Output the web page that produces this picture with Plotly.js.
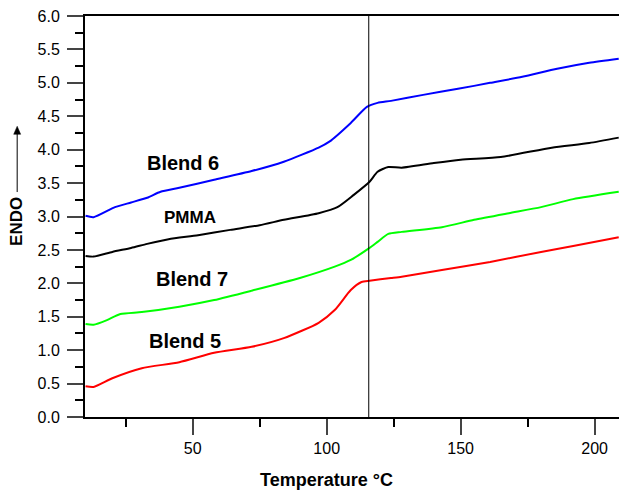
<!DOCTYPE html>
<html>
<head>
<meta charset="utf-8">
<script src="https://cdn.plot.ly/plotly-3.0.1.min.js"></script>
<style>html,body{margin:0;padding:0;background:#fff;}#chart{width:619px;height:492px;}</style>
</head>
<body>
<div id="chart"></div>
<script>
// Temperature (°C) and ENDO values
const blend6T = [10, 13, 21, 27, 33, 38, 45, 58, 72, 84, 97, 101, 109, 115, 119, 124, 136, 149, 161, 173, 186, 198, 209];
const blend6 = [3.01, 2.99, 3.14, 3.21, 3.28, 3.37, 3.43, 3.55, 3.68, 3.82, 4.03, 4.12, 4.40, 4.64, 4.70, 4.73, 4.82, 4.91, 5.00, 5.09, 5.21, 5.30, 5.36];

const pmmaT = [10, 13, 20, 27, 33, 41, 52, 64, 75, 84, 97, 104, 110, 116, 119, 123, 128, 140, 150, 165, 184, 198, 209];
const pmma = [2.41, 2.40, 2.47, 2.53, 2.59, 2.66, 2.72, 2.80, 2.87, 2.95, 3.05, 3.14, 3.32, 3.52, 3.67, 3.74, 3.73, 3.80, 3.85, 3.89, 4.03, 4.10, 4.18];

const blend7T = [10, 13, 18, 23, 31, 45, 58, 72, 90, 103, 109, 116, 119, 123, 128, 143, 155, 168, 180, 192, 209];
const blend7 = [1.39, 1.38, 1.45, 1.54, 1.57, 1.65, 1.75, 1.89, 2.08, 2.25, 2.35, 2.53, 2.62, 2.74, 2.77, 2.84, 2.95, 3.05, 3.14, 3.26, 3.37];

const blend5T = [10, 13, 20, 31, 45, 58, 72, 84, 97, 103, 109, 113, 116, 124, 128, 143, 161, 180, 192, 209];
const blend5 = [0.46, 0.45, 0.58, 0.73, 0.82, 0.96, 1.05, 1.18, 1.41, 1.60, 1.90, 2.02, 2.04, 2.08, 2.10, 2.20, 2.32, 2.47, 2.56, 2.69];

const seriesNames = ["Blend 6", "PMMA", "Blend 7", "Blend 5"];
const labelT = [46.2, 48.8, 49.9, 47.3];
const labelY = [3.80, 2.99, 2.07, 1.14];
const tgLine = 115.7;

const xTickVals = [50, 100, 150, 200];
const yTickVals = [0, 0.5, 1, 1.5, 2, 2.5, 3, 3.5, 4, 4.5, 5, 5.5, 6];

const FONT = "Liberation Sans, Arial, Helvetica, sans-serif";

function tr(x, y, color, name) {
  return {x: x, y: y, type: "scatter", mode: "lines", name: name,
    line: {color: color, width: 2, shape: "spline", smoothing: 0.6}, hoverinfo: "skip"};
}

const data = [
  tr(blend6T, blend6, "#0000ff", seriesNames[0]),
  tr(pmmaT, pmma, "#000000", seriesNames[1]),
  tr(blend7T, blend7, "#00ff00", seriesNames[2]),
  tr(blend5T, blend5, "#ff0000", seriesNames[3])
];

const annotations = seriesNames.map((n, i) => ({
  x: labelT[i], y: labelY[i], xref: "x", yref: "y", text: "<b>" + n + "</b>",
  showarrow: false, font: {family: FONT, size: n === "PMMA" ? 17 : 20, color: "#000"}
}));
// x-axis title
annotations.push({
  x: 0.452, y: -0.157, xref: "paper", yref: "paper", xanchor: "center", yanchor: "middle",
  text: "<b>Temperature °C</b>", showarrow: false,
  font: {family: FONT, size: 18, color: "#000"}
});
// y-axis title
annotations.push({
  x: -0.127, y: 0.487, xref: "paper", yref: "paper", xanchor: "center", yanchor: "middle",
  text: "<b>ENDO</b>", textangle: -90, showarrow: false,
  font: {family: FONT, size: 17, color: "#000"}
});

const layout = {
  width: 619, height: 492,
  margin: {l: 85, r: 0, t: 16, b: 75},
  paper_bgcolor: "#fff", plot_bgcolor: "#fff",
  showlegend: false,
  font: {family: FONT, size: 16, color: "#000"},
  xaxis: {
    range: [9.8, 209.1], tickvals: xTickVals, ticks: "outside", ticklen: 16, tickwidth: 2,
    showline: true, linewidth: 2, linecolor: "#000", mirror: true,
    showgrid: false, zeroline: false, tickfont: {family: FONT, size: 16},
    minor: {dtick: 25, tick0: 0, ticks: "outside", ticklen: 8, tickwidth: 2, tickcolor: "#000", showgrid: false}
  },
  yaxis: {
    range: [0, 6], tickvals: yTickVals, tickformat: ".1f", ticks: "outside", ticklen: 16, tickwidth: 2,
    showline: true, linewidth: 2, linecolor: "#000", ticklabelstandoff: 4,
    showgrid: false, zeroline: false, tickfont: {family: FONT, size: 16},
    minor: {dtick: 0.25, tick0: 0, ticks: "outside", ticklen: 8, tickwidth: 2, tickcolor: "#000", showgrid: false}
  },
  shapes: [
    {type: "line", xref: "x", yref: "paper", x0: tgLine, x1: tgLine, y0: 0, y1: 1,
      line: {color: "#000", width: 1}},
    // ENDO arrow shaft and head
    {type: "line", xref: "paper", yref: "paper", x0: -0.127, x1: -0.127, y0: 0.561, y1: 0.71,
      line: {color: "#000", width: 1}},
    {type: "path", xref: "paper", yref: "paper",
      path: "M -0.1335 0.705 L -0.1205 0.705 L -0.127 0.725 Z",
      fillcolor: "#000", line: {color: "#000", width: 0.5}}
  ],
  annotations: annotations
};

Plotly.newPlot("chart", data, layout, {displayModeBar: false, staticPlot: true});
</script>
</body>
</html>
